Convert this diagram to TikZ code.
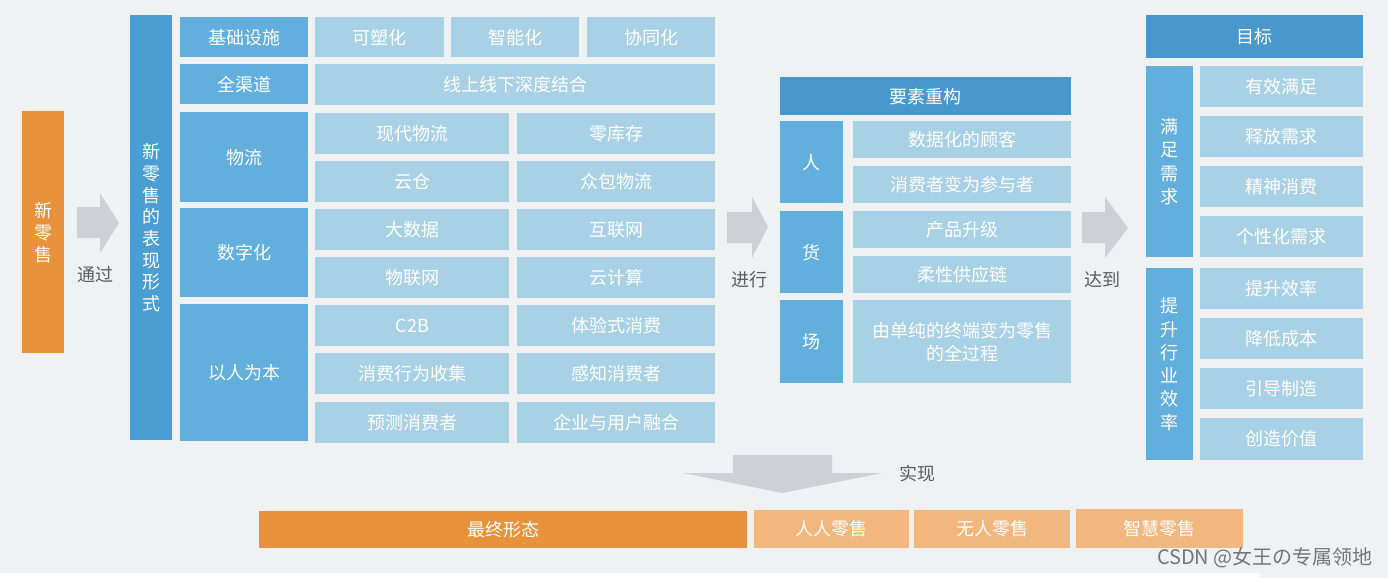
\documentclass[tikz,border=0pt]{standalone}
\usepackage{fontspec}
\setmainfont{Noto Sans CJK SC}
\usepackage{xcolor}
\usepackage{tikz}
\definecolor{PageGray}{HTML}{EFF1F3}
\definecolor{ItemBlue}{HTML}{A9D1E6}
\definecolor{CatBlue}{HTML}{62AEDC}
\definecolor{HeadBlue}{HTML}{4898CE}
\definecolor{FormBlue}{HTML}{4A9ED3}
\definecolor{RetailOrange}{HTML}{E8923C}
\definecolor{FormOrange}{HTML}{F1B77E}
\definecolor{ArrowGray}{HTML}{CDD0D5}
\definecolor{LabelGray}{HTML}{5C5C5C}
\tikzset{
  cell/.style={anchor=north west,inner sep=0pt,align=center,text=white,font=\fontsize{18}{22}\selectfont},
  itembox/.style={cell,fill=ItemBlue},
  catbox/.style={cell,fill=CatBlue},
  headbox/.style={cell,fill=HeadBlue},
  mainbox/.style={cell,fill=RetailOrange},
  formbox/.style={cell,fill=FormOrange},
  blockarrow/.style={fill=ArrowGray},
  steplabel/.style={text=LabelGray,inner sep=0pt,font=\fontsize{18}{22}\selectfont}
}

\begin{document}
\begin{tikzpicture}[x=1pt,y=-1pt]
\fill[PageGray] (0,0) rectangle (1388,578);
\fill[white] (0,573) rectangle (1260,578);
\useasboundingbox (0,0) rectangle (1388,578);
% 新零售 -> 表现形式
\node[mainbox,minimum width=42,minimum height=242] (xls) at (22,111) {新\\零\\售};
\fill[blockarrow] (77,207) -- (100,207) -- (100,193) -- (119,223) -- (100,253) -- (100,238) -- (77,238) -- cycle;
\node[steplabel] (tg) at (95,275) {通过};
\node[cell,fill=FormBlue,minimum width=42,minimum height=425,font=\fontsize{18}{21.7}\selectfont] (bxxs) at (130,15) {新\\零\\售\\的\\表\\现\\形\\式};
% 分类
\node[catbox,minimum width=128,minimum height=40] (jcss) at (180,17) {基础设施};
\node[catbox,minimum width=128,minimum height=40] (qqd) at (180,64) {全渠道};
\node[catbox,minimum width=128,minimum height=90] (wl) at (180,112) {物流};
\node[catbox,minimum width=128,minimum height=89] (szh) at (180,208) {数字化};
\node[catbox,minimum width=128,minimum height=137] (yrwb) at (180,304) {以人为本};
\node[itembox,minimum width=129,minimum height=40] (ksh) at (315,17) {可塑化};
\node[itembox,minimum width=128,minimum height=40] (znh) at (451,17) {智能化};
\node[itembox,minimum width=128,minimum height=40] (txh) at (587,17) {协同化};
\node[itembox,minimum width=400,minimum height=41] (xsxx) at (315,64) {线上线下深度结合};
\node[itembox,minimum width=194,minimum height=41] (xdwl) at (315,113) {现代物流};
\node[itembox,minimum width=198,minimum height=41] (lkc) at (517,113) {零库存};
\node[itembox,minimum width=194,minimum height=41] (yc) at (315,161) {云仓};
\node[itembox,minimum width=198,minimum height=41] (zbwl) at (517,161) {众包物流};
\node[itembox,minimum width=194,minimum height=41] (dsj) at (315,209) {大数据};
\node[itembox,minimum width=198,minimum height=41] (hlw) at (517,209) {互联网};
\node[itembox,minimum width=194,minimum height=41] (wlw) at (315,257) {物联网};
\node[itembox,minimum width=198,minimum height=41] (yjs) at (517,257) {云计算};
\node[itembox,minimum width=194,minimum height=41] (ctb) at (315,305) {C2B};
\node[itembox,minimum width=198,minimum height=41] (tysxf) at (517,305) {体验式消费};
\node[itembox,minimum width=194,minimum height=41] (xfxw) at (315,353) {消费行为收集};
\node[itembox,minimum width=198,minimum height=41] (gzxfz) at (517,353) {感知消费者};
\node[itembox,minimum width=194,minimum height=41] (ycxfz) at (315,402) {预测消费者};
\node[itembox,minimum width=198,minimum height=41] (qyyh) at (517,402) {企业与用户融合};
% 要素重构
\fill[blockarrow] (727,212) -- (752,212) -- (752,197) -- (768,227) -- (752,258) -- (752,243) -- (727,243) -- cycle;
\node[steplabel] (jx) at (749,280) {进行};
\node[headbox,minimum width=291,minimum height=38] (yscg) at (780,77) {要素重构};
\node[catbox,minimum width=63,minimum height=82] (ren) at (780,121) {人};
\node[catbox,minimum width=63,minimum height=82] (huo) at (780,211) {货};
\node[catbox,minimum width=63,minimum height=83] (chang) at (780,300) {场};
\node[itembox,minimum width=218,minimum height=37] (gk) at (853,121) {数据化的顾客};
\node[itembox,minimum width=218,minimum height=37] (cyz) at (853,166) {消费者变为参与者};
\node[itembox,minimum width=218,minimum height=37] (cpsj) at (853,211) {产品升级};
\node[itembox,minimum width=218,minimum height=37] (gyl) at (853,256) {柔性供应链};
\node[itembox,minimum width=218,minimum height=83,font=\fontsize{18}{23}\selectfont] (qgc) at (853,300) {由单纯的终端变为零售\\的全过程};
% 目标
\fill[blockarrow] (1082,212) -- (1105,212) -- (1105,197) -- (1128,228) -- (1105,258) -- (1105,243) -- (1082,243) -- cycle;
\node[steplabel] (dd) at (1102,280) {达到};
\node[headbox,minimum width=217,minimum height=43] (mb) at (1146,15) {目标};
\node[catbox,minimum width=47,minimum height=191,font=\fontsize{18}{23.3}\selectfont] (mzxq) at (1146,66) {满\\足\\需\\求};
\node[catbox,minimum width=47,minimum height=192,font=\fontsize{18}{23.3}\selectfont] (tsxy) at (1146,268) {提\\升\\行\\业\\效\\率};
\node[itembox,minimum width=163,minimum height=41] (yxmz) at (1200,66) {有效满足};
\node[itembox,minimum width=163,minimum height=41] (sfxq) at (1200,116) {释放需求};
\node[itembox,minimum width=163,minimum height=41] (jsxf) at (1200,166) {精神消费};
\node[itembox,minimum width=163,minimum height=41] (gxh) at (1200,216) {个性化需求};
\node[itembox,minimum width=163,minimum height=41] (tsxl) at (1200,268) {提升效率};
\node[itembox,minimum width=163,minimum height=41] (jdcb) at (1200,318) {降低成本};
\node[itembox,minimum width=163,minimum height=41] (ydzz) at (1200,368) {引导制造};
\node[itembox,minimum width=163,minimum height=42] (czjz) at (1200,418) {创造价值};
% 最终形态
\fill[blockarrow] (733,455) -- (832,455) -- (832,473) -- (882,473) -- (782,493) -- (683,473) -- (733,473) -- cycle;
\node[steplabel] (sx) at (917,474) {实现};
\node[mainbox,minimum width=488,minimum height=37] (zzxt) at (259,511) {最终形态};
\node[formbox,minimum width=155,minimum height=38] (rrls) at (754,510) {人人零售};
\node[formbox,minimum width=156,minimum height=38] (wrls) at (914,510) {无人零售};
\node[formbox,minimum width=167,minimum height=39] (zhls) at (1076,509) {智慧零售};
\node[anchor=east,inner sep=0pt,text=LabelGray!85,font=\fontsize{20}{24}\selectfont] (sy) at (1373,558) {CSDN @女王の专属领地};
\end{tikzpicture}
\end{document}
